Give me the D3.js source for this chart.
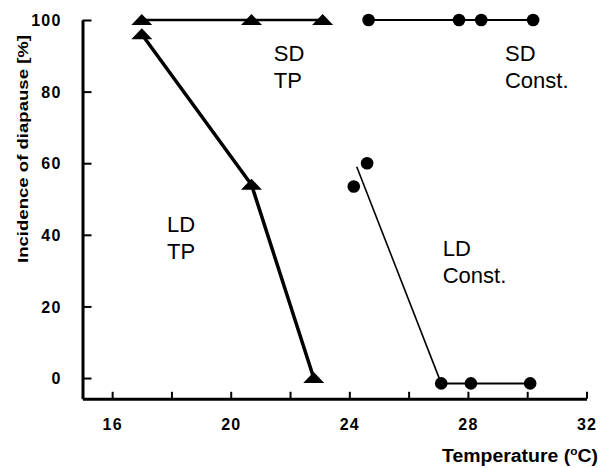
<!DOCTYPE html>
<html>
<head>
<meta charset="utf-8">
<script src="https://cdn.jsdelivr.net/npm/d3@7"></script>
<style>
  body { margin: 0; background: #fff; }
  svg { display: block; }
  .tick text { font-family: "Liberation Sans", Arial, sans-serif; font-weight: bold; font-size: 16px; letter-spacing: 1.2px; }
  .lab { font-family: "Liberation Sans", Arial, sans-serif; font-size: 22px; }
  .title { font-family: "Liberation Sans", Arial, sans-serif; font-weight: bold; font-size: 15px; }
</style>
</head>
<body>
<svg id="chart" width="601" height="468"></svg>
<script>
// readings
var sdTpTemp = [17, 20.7, 23.1];
var sdTpDia = [100, 100, 100];
var ldTpTemp = [17, 20.7, 22.8];
var ldTpDia = [96, 54, 0];
var sdConstTemp = [24.65, 27.7, 28.45, 30.2];
var sdConstDia = [100, 100, 100, 100];
var ldConstTemp = [24.15, 24.6, 27.1, 28.1, 30.1];
var ldConstDia = [53.5, 60, -1.5, -1.5, -1.5];
var ldFitTemp = [24.25, 27.1];
var ldFitDia = [59, -1.5];

var xTicks = [16, 18, 20, 22, 24, 26, 28, 30, 32];
var yTicks = [0, 20, 40, 60, 80, 100];

var labels = [
  { lines: ["SD", "TP"], t: 21.45, d: 88.5 },
  { lines: ["SD", "Const."], t: 29.25, d: 88.5 },
  { lines: ["LD", "TP"], t: 17.85, d: 40.8 },
  { lines: ["LD", "Const."], t: 27.15, d: 34 }
];

var svg = d3.select("#chart");

var x = d3.scaleLinear().domain([15, 32]).range([82.5, 586.5]);
var y = d3.scaleLinear().domain([-5.8, 100]).range([398.8, 20]);

function zip(a, b) {
  return a.map(function(v, i) { return [v, b[i]]; });
}

// axes
var xAxis = svg.append("g")
  .attr("transform", "translate(0," + y(-5.8) + ")")
  .call(d3.axisBottom(x).tickValues(xTicks).tickSizeInner(-7).tickSizeOuter(0)
    .tickPadding(20)
    .tickFormat(function(d) { return d % 4 == 0 ? d : ""; }));
xAxis.select(".domain").attr("stroke-width", 3);
xAxis.selectAll(".tick line").attr("stroke-width", 2);
xAxis.selectAll(".tick text").attr("fill", "#000");

var yAxis = svg.append("g")
  .attr("transform", "translate(" + x(15) + ",0)")
  .call(d3.axisLeft(y).tickValues(yTicks).tickSizeInner(-9).tickSizeOuter(0)
    .tickPadding(21));
yAxis.select(".domain").attr("stroke-width", 3);
yAxis.selectAll(".tick line").attr("stroke-width", 2);
yAxis.selectAll(".tick text").attr("fill", "#000").attr("dy", "0.36em");

// lines
var line = d3.line().x(function(d) { return x(d[0]); }).y(function(d) { return y(d[1]); });

svg.append("path").datum(zip(sdTpTemp, sdTpDia)).attr("d", line)
  .attr("fill", "none").attr("stroke", "#000").attr("stroke-width", 2.5);
svg.append("path").datum(zip(ldTpTemp, ldTpDia)).attr("d", line)
  .attr("fill", "none").attr("stroke", "#000").attr("stroke-width", 3.5);
svg.append("path").datum(zip(sdConstTemp, sdConstDia)).attr("d", line)
  .attr("fill", "none").attr("stroke", "#000").attr("stroke-width", 2);
svg.append("path").datum(zip(ldFitTemp, ldFitDia)).attr("d", line)
  .attr("fill", "none").attr("stroke", "#000").attr("stroke-width", 1.6);
svg.append("path").datum(zip(ldConstTemp.slice(2), ldConstDia.slice(2))).attr("d", line)
  .attr("fill", "none").attr("stroke", "#000").attr("stroke-width", 2);

// markers
var tri = "M-10.5,5L10.5,5L0,-6Z";
svg.selectAll(".tri")
  .data(zip(sdTpTemp, sdTpDia).concat(zip(ldTpTemp, ldTpDia)))
  .enter().append("path")
  .attr("class", "tri")
  .attr("d", tri)
  .attr("transform", function(d) { return "translate(" + x(d[0]) + "," + y(d[1]) + ")"; })
  .attr("fill", "#000");

svg.selectAll(".dot")
  .data(zip(sdConstTemp, sdConstDia).concat(zip(ldConstTemp, ldConstDia)))
  .enter().append("circle")
  .attr("class", "dot")
  .attr("cx", function(d) { return x(d[0]); })
  .attr("cy", function(d) { return y(d[1]); })
  .attr("r", 6.3)
  .attr("fill", "#000");

// series labels
labels.forEach(function(l) {
  var t = svg.append("text").attr("class", "lab")
    .attr("x", x(l.t)).attr("y", y(l.d));
  l.lines.forEach(function(s, i) {
    t.append("tspan").attr("x", x(l.t)).attr("dy", i == 0 ? 0 : 27).text(s);
  });
});

// axis titles
svg.append("text").attr("class", "title")
  .attr("transform", "translate(28,149) rotate(-90)")
  .attr("text-anchor", "middle")
  .attr("textLength", 228).attr("lengthAdjust", "spacingAndGlyphs")
  .text("Incidence of diapause [%]");

var xt = svg.append("text").attr("class", "title")
  .attr("x", 442).attr("y", 462)
  .attr("textLength", 156).attr("lengthAdjust", "spacingAndGlyphs")
  .style("font-size", "18px");
xt.append("tspan").text("Temperature (");
xt.append("tspan").attr("dy", -7).style("font-size", "11px").text("o");
xt.append("tspan").attr("dy", 7).text("C)");
</script>
</body>
</html>
